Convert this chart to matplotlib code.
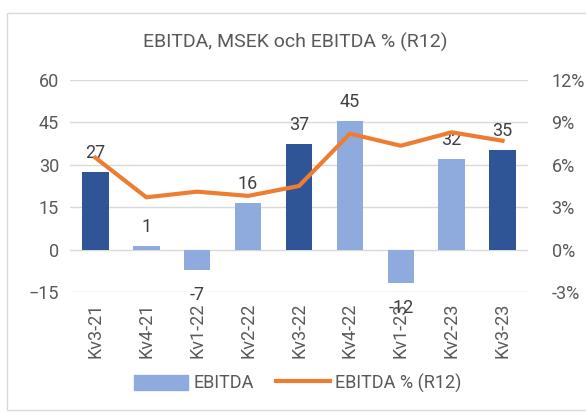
import matplotlib
matplotlib.use("Agg")
import matplotlib.pyplot as plt
from matplotlib.patches import Rectangle, Patch
from matplotlib.lines import Line2D
from matplotlib.ticker import FuncFormatter

categories = ["Kv3-21", "Kv4-21", "Kv1-22", "Kv2-22", "Kv3-22", "Kv4-22", "Kv1-23", "Kv2-23", "Kv3-23"]
ebitda = [27.5, 1.3, -7.1, 16.6, 37.3, 45.5, -11.7, 32.1, 35.2]
ebitda_labels = ["27", "1", "-7", "16", "37", "45", "-12", "32", "35"]
ebitda_pct = [6.5, 3.7, 4.1, 3.8, 4.5, 8.2, 7.35, 8.3, 7.7]
bar_dark = [True, False, False, False, True, False, False, False, True]

DARK = "#2F5597"
LIGHT = "#8FAADC"
ORANGE = "#ED7D31"
TXT = "#595959"
GRID = "#D9D9D9"

plt.rcParams['font.family'] = ['Roboto', 'DejaVu Sans']

W, H = 586, 412
fig = plt.figure(figsize=(W / 100, H / 100), dpi=100)
fig.patches.append(Rectangle((7 / W, 1 - 410 / H), (620 - 7) / W, (410 - 13) / H,
                             transform=fig.transFigure, fill=False, ec="#D9D9D9", lw=1))

left, right, top, bottom = 70, 528, 80, 292
ax = fig.add_axes([left / W, 1 - bottom / H, (right - left) / W, (bottom - top) / H])
x = list(range(len(categories)))
colors = [DARK if d else LIGHT for d in bar_dark]
ax.bar(x, ebitda, width=0.52, color=colors, zorder=2)
ax.set_xlim(-0.5, len(categories) - 0.5)
ax.set_ylim(-15, 60)
ax.set_yticks([-15, 0, 15, 30, 45, 60])
ax.yaxis.grid(True, color=GRID, lw=1, zorder=0)
for s in ax.spines.values():
    s.set_visible(False)
ax.tick_params(axis='both', length=0, colors=TXT, labelsize=13)
ax.tick_params(axis='y', pad=8)
ax.set_xticks(x)
ax.set_xticklabels(categories, rotation=90, fontsize=13, color=TXT)
ax.tick_params(axis='x', pad=8)

for xi, v, lab in zip(x, ebitda, ebitda_labels):
    if v >= 0:
        ax.annotate(lab, (xi, v), xytext=(0, 7), textcoords='offset points',
                    ha='center', va='bottom', fontsize=13, color="#404040", zorder=5)
    else:
        ax.annotate(lab, (xi, v), xytext=(0, -12), textcoords='offset points',
                    ha='center', va='top', fontsize=13, color="#404040", zorder=5)

ax2 = ax.twinx()
ax2.plot(x, ebitda_pct, color=ORANGE, lw=3, zorder=3, solid_joinstyle='round')
ax2.set_ylim(-3, 12)
ax2.set_yticks([-3, 0, 3, 6, 9, 12])
ax2.yaxis.set_major_formatter(FuncFormatter(lambda v, p: f"{v:.0f}%"))
for s in ax2.spines.values():
    s.set_visible(False)
ax2.tick_params(axis='y', length=0, colors=TXT, labelsize=13, pad=17)

fig.text(295 / W, 1 - 42 / H, "EBITDA, MSEK och EBITDA % (R12)", ha='center', va='center',
         fontsize=14, color=TXT)

handles = [Patch(color=LIGHT), Line2D([0], [0], color=ORANGE, lw=3)]
fig.legend(handles, ["EBITDA", "EBITDA % (R12)"], loc='center', bbox_to_anchor=(298 / W, 1 - 383 / H),
           ncol=2, frameon=False, fontsize=13, labelcolor=TXT, handlelength=3.0,
           handleheight=0.9, columnspacing=1.2, handletextpad=0.3)

fig.savefig("out.png", dpi=100)
